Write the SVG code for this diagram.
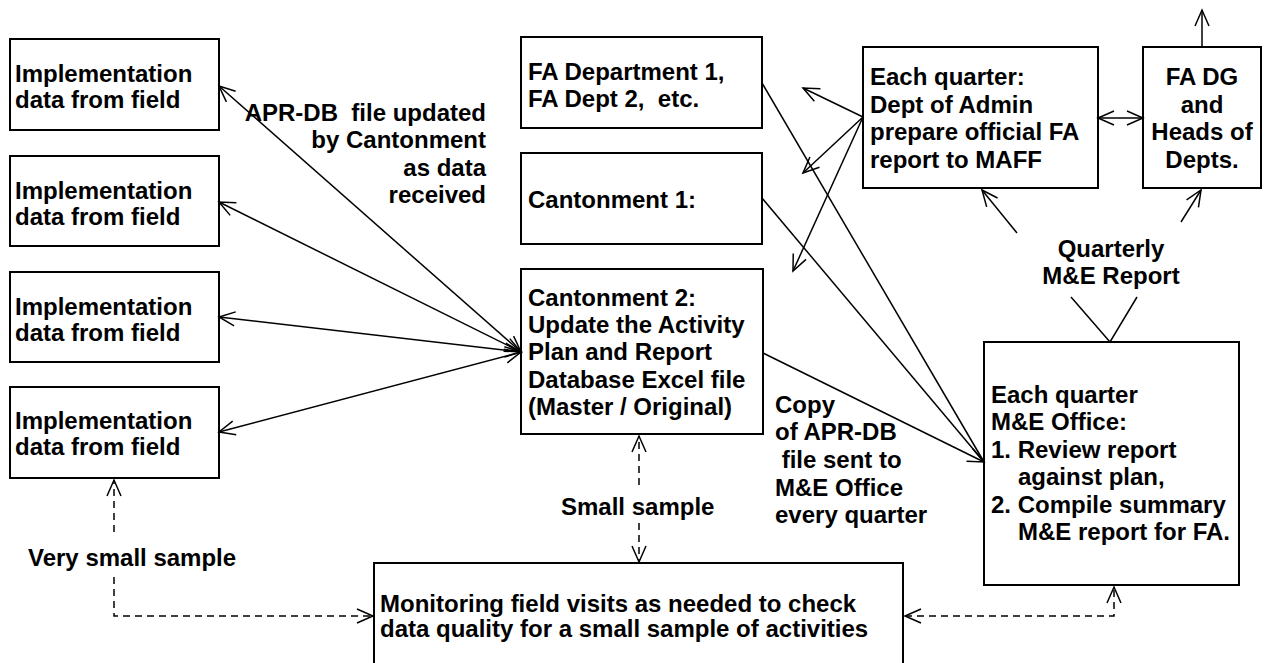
<svg xmlns="http://www.w3.org/2000/svg" width="1265" height="663" viewBox="0 0 1265 663">
  <style>
    .box { fill: #fff; stroke: #000; stroke-width: 2; }
    .t { font-family: "Liberation Sans", Arial, Helvetica, sans-serif; font-weight: bold; font-size: 24px; fill: #000; white-space: pre; }
    .mid { text-anchor: middle; }
    .end { text-anchor: end; }
    .ln { fill: none; stroke: #000; stroke-width: 1.5; }
    .dash { fill: none; stroke: #000; stroke-width: 1.5; stroke-dasharray: 7 5; }
  </style>
  <defs>
    <marker id="arr" viewBox="-18 -9 21 18" refX="0" refY="0" markerWidth="21" markerHeight="18" markerUnits="userSpaceOnUse" orient="auto-start-reverse" overflow="visible">
      <path d="M-16,-7 L0,0 L-16,7" fill="none" stroke="#000" stroke-width="1.5"/>
    </marker>
  </defs>
  <rect width="1265" height="663" fill="#fff"/>

  <!-- field data boxes -->
  <g id="field1">
    <rect class="box" x="10" y="39" width="209" height="91"/>
    <text class="t" x="15"><tspan x="15" y="82">Implementation</tspan><tspan x="15" y="108">data from field</tspan></text>
  </g>
  <g id="field2">
    <rect class="box" x="10" y="156" width="209" height="90"/>
    <text class="t"><tspan x="15" y="199">Implementation</tspan><tspan x="15" y="225">data from field</tspan></text>
  </g>
  <g id="field3">
    <rect class="box" x="10" y="272" width="209" height="90"/>
    <text class="t"><tspan x="15" y="315">Implementation</tspan><tspan x="15" y="341">data from field</tspan></text>
  </g>
  <g id="field4">
    <rect class="box" x="10" y="387" width="209" height="91"/>
    <text class="t"><tspan x="15" y="429">Implementation</tspan><tspan x="15" y="455">data from field</tspan></text>
  </g>

  <!-- departments and cantonments -->
  <g id="fa-depts">
    <rect class="box" x="521" y="37" width="241" height="91"/>
    <text class="t"><tspan x="528" y="80">FA Department 1,</tspan><tspan x="528" y="107">FA Dept 2,  etc.</tspan></text>
  </g>
  <g id="cantonment1">
    <rect class="box" x="521" y="153" width="241" height="91"/>
    <text class="t" x="528" y="208">Cantonment 1:</text>
  </g>
  <g id="cantonment2">
    <rect class="box" x="521" y="269" width="242" height="165"/>
    <text class="t"><tspan x="528" y="306">Cantonment 2:</tspan><tspan x="528" y="333">Update the Activity</tspan><tspan x="528" y="360">Plan and Report</tspan><tspan x="528" y="388">Database Excel file</tspan><tspan x="528" y="415">(Master / Original)</tspan></text>
  </g>

  <!-- reporting boxes -->
  <g id="dept-admin">
    <rect class="box" x="863" y="47" width="235" height="141"/>
    <text class="t"><tspan x="870" y="85">Each quarter:</tspan><tspan x="870" y="113">Dept of Admin</tspan><tspan x="870" y="140">prepare official FA</tspan><tspan x="870" y="168">report to MAFF</tspan></text>
  </g>
  <g id="fa-dg">
    <rect class="box" x="1143" y="47" width="118" height="141"/>
    <text class="t mid"><tspan x="1202" y="85">FA DG</tspan><tspan x="1202" y="113">and</tspan><tspan x="1202" y="140">Heads of</tspan><tspan x="1202" y="168">Depts.</tspan></text>
  </g>
  <g id="me-office">
    <rect class="box" x="984" y="342" width="255" height="243"/>
    <text class="t"><tspan x="991" y="403">Each quarter</tspan><tspan x="991" y="430">M&amp;E Office:</tspan><tspan x="991" y="458">1. Review report</tspan><tspan x="1018" y="485">against plan,</tspan><tspan x="991" y="513">2. Compile summary</tspan><tspan x="1018" y="540">M&amp;E report for FA.</tspan></text>
  </g>
  <g id="monitoring">
    <rect class="box" x="374" y="563" width="529" height="115"/>
    <text class="t"><tspan x="380" y="612">Monitoring field visits as needed to check</tspan><tspan x="380" y="637">data quality for a small sample of activities</tspan></text>
  </g>

  <!-- connectors -->
  <g id="connectors">
    <path class="ln" d="M219,86 L521,352" marker-start="url(#arr)" marker-end="url(#arr)"/>
    <path class="ln" d="M219,202 L521,352" marker-start="url(#arr)" marker-end="url(#arr)"/>
    <path class="ln" d="M219,317 L521,352" marker-start="url(#arr)" marker-end="url(#arr)"/>
    <path class="ln" d="M219,432 L521,352" marker-start="url(#arr)" marker-end="url(#arr)"/>

    <path class="ln" d="M762,83 L984,462"/>
    <path class="ln" d="M762,198 L984,462"/>
    <path class="ln" d="M763,353 L984,462" marker-end="url(#arr)"/>

    <path class="ln" d="M863,117 L803,88" marker-end="url(#arr)"/>
    <path class="ln" d="M863,117 L803,173" marker-end="url(#arr)"/>
    <path class="ln" d="M863,117 L793,271" marker-end="url(#arr)"/>

    <path class="ln" d="M1098,118 L1143,118" marker-start="url(#arr)" marker-end="url(#arr)"/>
    <path class="ln" d="M1202,47 L1202,10" marker-end="url(#arr)"/>

    <path class="ln" d="M1017,233 L982,190" marker-end="url(#arr)"/>
    <path class="ln" d="M1181,222 L1201,190" marker-end="url(#arr)"/>
    <path class="ln" d="M1071,297 L1110,342 L1137,297"/>

    <path class="dash" d="M114,532 L114,480" marker-end="url(#arr)"/>
    <path class="dash" d="M114,577 L114,616 L373,616" marker-end="url(#arr)"/>
    <path class="dash" d="M639,485 L639,436" marker-end="url(#arr)"/>
    <path class="dash" d="M639,523 L639,562" marker-end="url(#arr)"/>
    <path class="dash" d="M905,616 L1114,616 L1114,587" marker-start="url(#arr)" marker-end="url(#arr)"/>
  </g>

  <!-- connector labels -->
  <g id="labels">
    <text class="t end"><tspan x="486" y="121">APR-DB  file updated</tspan><tspan x="486" y="148">by Cantonment</tspan><tspan x="486" y="176">as data</tspan><tspan x="486" y="203">received</tspan></text>
    <text class="t"><tspan x="775" y="413">Copy</tspan><tspan x="775" y="440">of APR-DB</tspan><tspan x="775" y="468"> file sent to</tspan><tspan x="775" y="496">M&amp;E Office</tspan><tspan x="775" y="523">every quarter</tspan></text>
    <text class="t mid"><tspan x="1111" y="257">Quarterly</tspan><tspan x="1111" y="284">M&amp;E Report</tspan></text>
    <text class="t" x="561" y="515">Small sample</text>
    <text class="t" x="28" y="566">Very small sample</text>
  </g>
</svg>
